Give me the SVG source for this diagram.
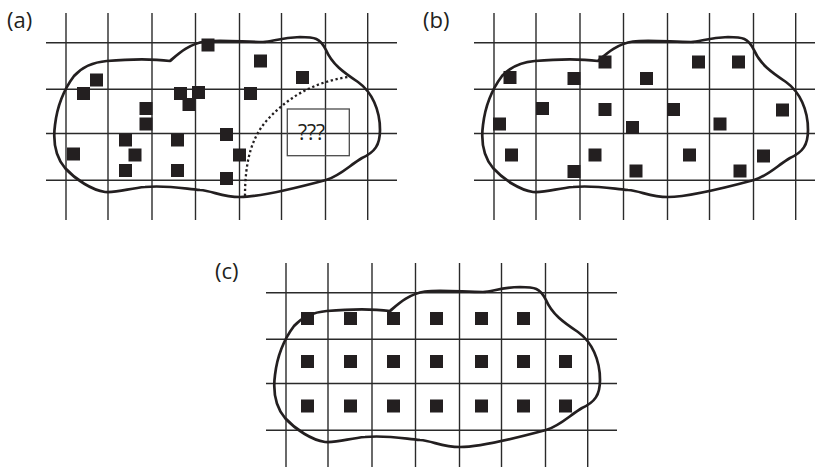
<svg xmlns="http://www.w3.org/2000/svg" xmlns:xlink="http://www.w3.org/1999/xlink" width="815" height="467" viewBox="0 0 815 467">
<style>
.grid line{stroke:#2a2a2a;stroke-width:1.4}
.blob{fill:none;stroke:#231f20;stroke-width:2.7;stroke-linejoin:round}
.sq rect{fill:#231f20}
.lbl{font-family:"Open Sans","Liberation Sans",sans-serif;font-size:22px;fill:#231f20}
.q{font-family:"Open Sans","Liberation Sans",sans-serif;font-size:21px;fill:#231f20}
.dots{fill:none;stroke:#231f20;stroke-width:2.3;stroke-dasharray:2.3 2.6}
.box{fill:none;stroke:#4a4a4a;stroke-width:1.3}
</style>
<defs>
<g id="gridA" class="grid">
<line x1="66" y1="13" x2="66" y2="220"/>
<line x1="108" y1="13" x2="108" y2="220"/>
<line x1="152" y1="13" x2="152" y2="220"/>
<line x1="195.5" y1="13" x2="195.5" y2="220"/>
<line x1="239.5" y1="13" x2="239.5" y2="220"/>
<line x1="281.5" y1="13" x2="281.5" y2="220"/>
<line x1="325.5" y1="13" x2="325.5" y2="220"/>
<line x1="367.7" y1="13" x2="367.7" y2="220"/>
<line x1="46" y1="42.7" x2="397" y2="42.7"/>
<line x1="46" y1="89.3" x2="397" y2="89.3"/>
<line x1="46" y1="133.5" x2="397" y2="133.5"/>
<line x1="46" y1="180.3" x2="397" y2="180.3"/>
</g>
<path id="blobA" class="blob" d="M106.7,61 C130,59 155,59 170,61 C177,55 188,44 205,41.5 C220,39.5 245,42 263,42 C272,42 280,37.5 300,37 C315,37 320,38 326,50 C332,64 343,72 358,82 C372,92 380,110 380,130 C380,145 375,152 362,158 C350,165 340,176 326,180 C300,187 262,197 240,197 C222,197 213,191 200,190 C180,188 165,185 145,187 C130,188 118,193 105,192 C92,190 76,180 65,168 C55,156 53,140 55,125 C57,108 62,92 74,76 C83,66 95,62 106.7,61 Z"/>
</defs>

<g id="panel-a">
<text class="lbl" x="7" y="28">(a)</text>
<use xlink:href="#gridA"/>
<use xlink:href="#blobA"/>
<path class="dots" d="M245,196 C245,160 252,135 270,117 C290,96 315,82 348,77"/>
<rect class="box" x="287.3" y="109" width="62" height="46.7"/>
<text class="q" x="311.5" y="139.5" text-anchor="middle">???</text>
<g class="sq">
<rect x="201.5" y="38.5" width="13" height="13"/>
<rect x="254" y="54.5" width="13" height="13"/>
<rect x="296" y="71" width="13" height="13"/>
<rect x="90" y="73.5" width="13" height="13"/>
<rect x="77" y="87" width="13" height="13"/>
<rect x="174" y="87" width="13" height="13"/>
<rect x="192" y="86" width="13" height="13"/>
<rect x="244" y="87" width="13" height="13"/>
<rect x="182.5" y="98" width="13" height="13"/>
<rect x="139.5" y="102" width="13" height="13"/>
<rect x="139.5" y="117.5" width="13" height="13"/>
<rect x="119" y="133.5" width="13" height="13"/>
<rect x="171" y="133.5" width="13" height="13"/>
<rect x="220" y="128" width="13" height="13"/>
<rect x="67" y="147.5" width="13" height="13"/>
<rect x="128.5" y="148.5" width="13" height="13"/>
<rect x="233" y="148.5" width="13" height="13"/>
<rect x="119" y="164" width="13" height="13"/>
<rect x="171" y="164" width="13" height="13"/>
<rect x="220" y="172" width="13" height="13"/>
</g>
</g>

<g id="panel-b">
<text class="lbl" x="423" y="28">(b)</text>
<use xlink:href="#gridA" transform="translate(428,0)"/>
<use xlink:href="#blobA" transform="translate(428,0)"/>
<g class="sq">
<rect x="503.5" y="71" width="13" height="13"/>
<rect x="567.5" y="72" width="13" height="13"/>
<rect x="598.5" y="55.5" width="13" height="13"/>
<rect x="640" y="72" width="13" height="13"/>
<rect x="692" y="55.5" width="13" height="13"/>
<rect x="732" y="55.5" width="13" height="13"/>
<rect x="536" y="102" width="13" height="13"/>
<rect x="598.5" y="103" width="13" height="13"/>
<rect x="667" y="103" width="13" height="13"/>
<rect x="776" y="103.5" width="13" height="13"/>
<rect x="493" y="117.5" width="13" height="13"/>
<rect x="626" y="121" width="13" height="13"/>
<rect x="713.5" y="117.5" width="13" height="13"/>
<rect x="505" y="148.5" width="13" height="13"/>
<rect x="588.5" y="148.5" width="13" height="13"/>
<rect x="683" y="148.5" width="13" height="13"/>
<rect x="757" y="149.5" width="13" height="13"/>
<rect x="567.5" y="165" width="13" height="13"/>
<rect x="629.5" y="164.5" width="13" height="13"/>
<rect x="733.5" y="164.5" width="13" height="13"/>
</g>
</g>

<g id="panel-c">
<text class="lbl" x="215" y="279">(c)</text>
<use xlink:href="#gridA" transform="translate(220,250)"/>
<use xlink:href="#blobA" transform="translate(220,250)"/>
<g class="sq">
<rect x="301" y="312" width="13" height="13"/>
<rect x="344" y="312" width="13" height="13"/>
<rect x="387" y="312" width="13" height="13"/>
<rect x="430" y="312" width="13" height="13"/>
<rect x="475" y="312" width="13" height="13"/>
<rect x="517" y="312" width="13" height="13"/>
<rect x="301" y="355" width="13" height="13"/>
<rect x="344" y="355" width="13" height="13"/>
<rect x="387" y="355" width="13" height="13"/>
<rect x="430" y="355" width="13" height="13"/>
<rect x="475" y="355" width="13" height="13"/>
<rect x="517" y="355" width="13" height="13"/>
<rect x="559" y="355" width="13" height="13"/>
<rect x="301" y="399.5" width="13" height="13"/>
<rect x="344" y="399.5" width="13" height="13"/>
<rect x="387" y="399.5" width="13" height="13"/>
<rect x="430" y="399.5" width="13" height="13"/>
<rect x="475" y="399.5" width="13" height="13"/>
<rect x="517" y="399.5" width="13" height="13"/>
<rect x="559" y="399.5" width="13" height="13"/>
</g>
</g>
</svg>
